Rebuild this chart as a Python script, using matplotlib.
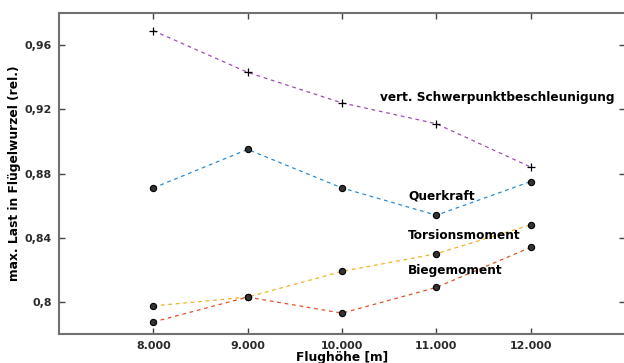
import matplotlib
matplotlib.use("Agg")
import matplotlib.pyplot as plt
from matplotlib.ticker import FuncFormatter

hoehe = [8000, 9000, 10000, 11000, 12000]
schwerpunkt = [0.969, 0.943, 0.924, 0.911, 0.884]
querkraft = [0.871, 0.895, 0.871, 0.854, 0.875]
torsion = [0.7975, 0.803, 0.819, 0.830, 0.848]
biege = [0.7875, 0.803, 0.793, 0.809, 0.834]

plt.rcParams["font.family"] = "DejaVu Sans"
plt.rcParams["font.weight"] = "bold"

fig = plt.figure(figsize=(6.24, 3.63), dpi=100)
ax = fig.add_axes([59 / 624, 29 / 363, 566 / 624, 321 / 363])

dot = dict(marker="o", markersize=4.5, markerfacecolor="#333333",
           markeredgecolor="black", markeredgewidth=0.8)
ax.plot(hoehe, schwerpunkt, ls=(0, (3, 3)), lw=0.9, color="#9b4fb5",
        marker="+", markersize=5.5, markeredgecolor="black", markeredgewidth=0.9)
ax.plot(hoehe, querkraft, ls=(0, (3, 3)), lw=0.9, color="#2a8bd6", **dot)
ax.plot(hoehe, torsion, ls=(0, (3, 3)), lw=0.9, color="#f2b125", **dot)
ax.plot(hoehe, biege, ls=(0, (3, 3)), lw=0.9, color="#e0532a", **dot)

lab = dict(fontsize=8.7, fontweight="bold", va="center", ha="left")
ax.text(10404, 0.9275, "vert. Schwerpunktbeschleunigung", **lab)
ax.text(10702, 0.866, "Querkraft", **lab)
ax.text(10702, 0.8415, "Torsionsmoment", **lab)
ax.text(10702, 0.8195, "Biegemoment", **lab)

ax.set_xlim(7000, 13000)
ax.set_ylim(0.78, 0.98)
ax.set_xticks(hoehe)
ax.set_yticks([0.80, 0.84, 0.88, 0.92, 0.96])
ax.xaxis.set_major_formatter(FuncFormatter(lambda v, p: f"{int(v):,}".replace(",", ".")))
ax.yaxis.set_major_formatter(FuncFormatter(lambda v, p: f"{v:.2f}".rstrip("0").replace(".", ",")))

for s in ax.spines.values():
    s.set_color("#707070")
    s.set_linewidth(1.5)
ax.spines["right"].set_visible(False)
ax.tick_params(direction="in", length=4, width=1, color="#444444",
               top=True, right=True, labelsize=7.9, pad=5)
for t in ax.get_xticklabels() + ax.get_yticklabels():
    t.set_fontweight("bold")
    t.set_color("#2a2a2a")

ax.set_xlabel("Flughöhe [m]", fontsize=8.8, fontweight="bold", labelpad=0)
ax.set_ylabel("max. Last in Flügelwurzel (rel.)", fontsize=8.8, fontweight="bold", labelpad=3)

fig.savefig("out.png", dpi=100)
